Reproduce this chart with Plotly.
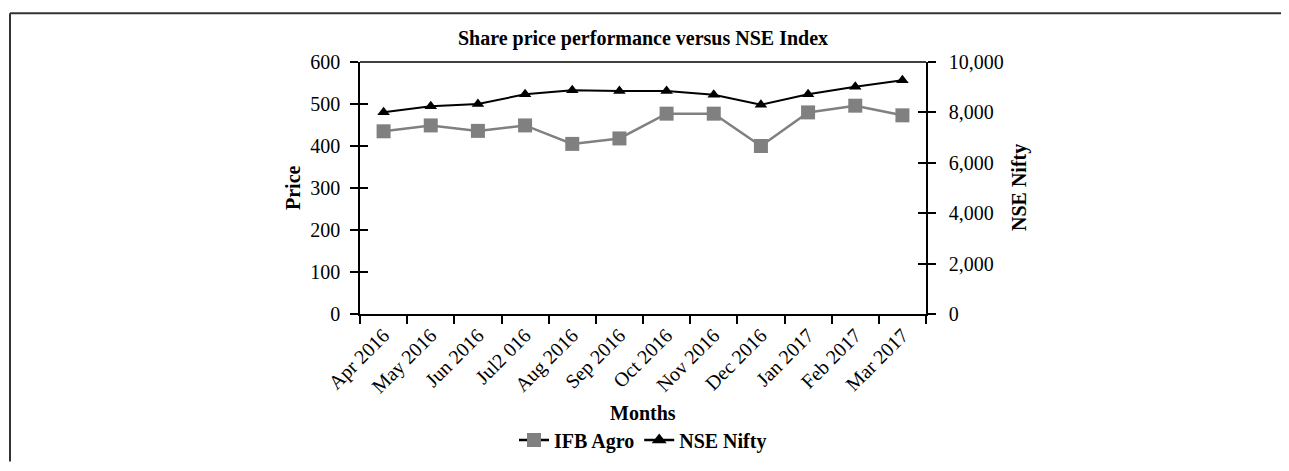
import plotly.graph_objects as go

months = ["Apr 2016", "May 2016", "Jun 2016", "Jul2 016", "Aug 2016", "Sep 2016",
          "Oct 2016", "Nov 2016", "Dec 2016", "Jan 2017", "Feb 2017", "Mar 2017"]
ifb_agro = [435, 449, 436, 449, 405, 418, 477, 477, 400, 480, 496, 473]
nse_nifty = [8010, 8240, 8330, 8720, 8880, 8850, 8850, 8700, 8300, 8720, 9020, 9280]

OFF = 8                      # page body margin
W, H = 1289 - OFF, 471 - OFF
ML, MT = 360 - OFF, 62 - OFF
MR = W - (926 - OFF)
MB = H - (320 - OFF)
FONT = "Liberation Serif"
GRAY = "#808080"

pw = W - ML - MR
ph = H - MT - MB


def px(x):
    """page pixel x -> paper fraction"""
    return (x - OFF - ML) / pw


def py(y):
    """page pixel y -> paper fraction"""
    return (H - MB - (y - OFF)) / ph


fig = go.Figure()
fig.add_trace(go.Scatter(
    x=months, y=ifb_agro, name="IFB Agro", mode="lines+markers",
    line=dict(color=GRAY, width=2.5),
    marker=dict(symbol="square", size=14, color=GRAY),
    yaxis="y", showlegend=False))
fig.add_trace(go.Scatter(
    x=months, y=nse_nifty, name="NSE Nifty", mode="lines+markers",
    line=dict(color="#000000", width=2),
    marker=dict(symbol="triangle-up", size=11, color="#000000"),
    yaxis="y2", showlegend=False))
# legend entries (black line with series marker, as in the reference)
fig.add_trace(go.Scatter(
    x=[months[0]], y=[None], name="<b>IFB Agro</b>", mode="lines+markers",
    line=dict(color="#000000", width=2.5),
    marker=dict(symbol="square", size=14, color=GRAY), yaxis="y"))
fig.add_trace(go.Scatter(
    x=[months[0]], y=[None], name="<b>NSE Nifty</b>", mode="lines+markers",
    line=dict(color="#000000", width=2.5),
    marker=dict(symbol="triangle-up", size=13, color="#000000"), yaxis="y"))
# helper traces for the inner half of the crossing tick marks
fig.add_trace(go.Scatter(x=[months[0]], y=[None], yaxis="y3", showlegend=False,
                         hoverinfo="skip"))
fig.add_trace(go.Scatter(x=[months[0]], y=[None], yaxis="y4", showlegend=False,
                         hoverinfo="skip"))

# outer frame (left and top edges)
fig.add_shape(type="line", xref="paper", yref="paper",
              x0=px(10), y0=py(471), x1=px(10), y1=py(12),
              line=dict(color="#333333", width=2))
fig.add_shape(type="line", xref="paper", yref="paper",
              x0=px(10), y0=py(12), x1=px(1289), y1=py(12),
              line=dict(color="#333333", width=2))
# top border of plot area
fig.add_shape(type="line", xref="paper", yref="paper",
              x0=0, y0=1, x1=1, y1=1,
              line=dict(color="#000000", width=1.5))

tick_font = dict(family=FONT, size=20, color="#000000")
ttl_font = dict(family=FONT, size=20, color="#000000")

fig.add_annotation(text="<b>Price</b>", xref="paper", yref="paper",
                   x=px(293), y=py(191), textangle=-90, showarrow=False,
                   font=ttl_font, xanchor="center", yanchor="middle")
fig.add_annotation(text="<b>NSE Nifty</b>", xref="paper", yref="paper",
                   x=px(1019), y=py(191), textangle=-90, showarrow=False,
                   font=ttl_font, xanchor="center", yanchor="middle")
fig.add_annotation(text="<b>Months</b>", xref="paper", yref="paper",
                   x=px(643), y=py(421), showarrow=False,
                   font=ttl_font, xanchor="center", yanchor="middle")

fig.update_layout(
    width=W, height=H,
    margin=dict(l=ML, r=MR, t=MT, b=MB),
    paper_bgcolor="white", plot_bgcolor="white",
    font=dict(family=FONT, size=20, color="#000000"),
    title=dict(text="<b>Share price performance versus NSE Index</b>",
               x=0.5, xref="paper", xanchor="center",
               y=1 - (38 - OFF) / H, yanchor="middle", yref="container",
               font=dict(family=FONT, size=20, color="#000000")),
    xaxis=dict(type="category", range=[-0.5, 11.5], tickson="boundaries",
               ticks="outside", ticklen=8, tickwidth=1.5, tickcolor="#000",
               showline=True, linecolor="#000", linewidth=1.5,
               tickangle=-45, tickfont=tick_font, showgrid=False, zeroline=False),
    yaxis=dict(range=[0, 600], dtick=100, ticks="outside", ticklen=8,
               tickwidth=1.5, tickcolor="#000", showline=True, linecolor="#000",
               linewidth=1.5, showgrid=False, zeroline=False, tickfont=tick_font,
               ticklabelstandoff=6),
    yaxis2=dict(range=[0, 10000], dtick=2000, tickformat=",", overlaying="y",
                side="right", ticks="outside", ticklen=8, tickwidth=1.5,
                tickcolor="#000", showline=True, linecolor="#000", linewidth=1.5,
                showgrid=False, zeroline=False, tickfont=tick_font,
                ticklabelstandoff=9),
    yaxis3=dict(range=[0, 600], dtick=100, overlaying="y", side="left",
                ticks="inside", ticklen=8, tickwidth=1.5, tickcolor="#000",
                showticklabels=False, showline=False, showgrid=False, zeroline=False),
    yaxis4=dict(range=[0, 10000], dtick=2000, overlaying="y", side="right",
                ticks="inside", ticklen=8, tickwidth=1.5, tickcolor="#000",
                showticklabels=False, showline=False, showgrid=False, zeroline=False),
    legend=dict(orientation="h", x=0.5, xanchor="center", y=py(449),
                yanchor="middle", font=dict(family=FONT, size=20, color="#000000"),
                bgcolor="rgba(0,0,0,0)"),
    showlegend=True,
)

fig.write_html("out.html")
